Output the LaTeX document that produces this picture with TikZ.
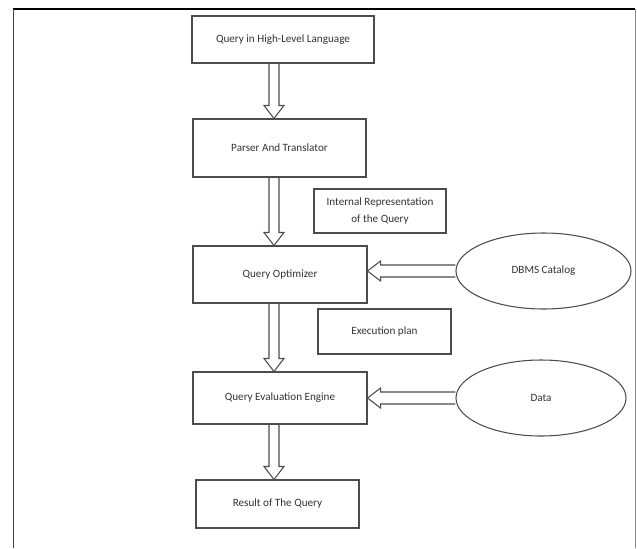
\documentclass[tikz,border=0pt]{standalone}
\usepackage{fontspec}
\setmainfont{Carlito}
\usetikzlibrary{positioning,calc,shapes.geometric}
\newcommand{\blockdown}[2]{% from, to   (hollow arrow down the axis)
  \draw[arr] ($(#1.south -| axis)+(-5,0)$) -- ($(#2.north -| axis)+(-5,13)$)
    -- ($(#2.north -| axis)+(-10,13)$) -- (#2.north -| axis)
    -- ($(#2.north -| axis)+(10,13)$) -- ($(#2.north -| axis)+(5,13)$)
    -- ($(#1.south -| axis)+(5,0)$);}
\newcommand{\blockleft}[2]{% from, to   (hollow arrow pointing left)
  \draw[arr] ($(#1.west)+(0,6)$) -- ($(#2.east |- #1.west)+(13,6)$)
    -- ($(#2.east |- #1.west)+(13,10)$) -- (#2.east |- #1.west)
    -- ($(#2.east |- #1.west)+(13,-10)$) -- ($(#2.east |- #1.west)+(13,-6)$)
    -- ($(#1.west)+(0,-6)$);}

\begin{document}
\begin{tikzpicture}[x=0.03cm,y=0.03cm,
  box/.style={draw=black!70,line width=0.9pt,fill=white,inner sep=0,
    text=black!80,font=\fontsize{9.5}{14}\selectfont},
  ell/.style={box,ellipse},
  arr/.style={draw=black!70,line width=0.9pt,line join=miter}]
  \useasboundingbox (0,0) rectangle (637,-548);
  % ---- frame ----
  \draw[line width=1.6pt] (12.5,-9) -- (635,-9);
  \draw[black!75,line width=1.1pt] (13.5,-9) -- (13.5,-548);
  \draw[black!45,line width=0.7pt] (635,-9) -- (635,-548);
  % ---- main column ----
  \coordinate (axis) at (274,0);
  \node[box,minimum width=5.46cm,minimum height=1.41cm] (hll) at (283,-39.5) {Query in High-Level Language};
  \node[box,minimum width=5.19cm,minimum height=1.74cm] (parser) at (279.5,-148) {Parser And Translator};
  \node[box,minimum width=5.22cm,minimum height=1.71cm] (opt) at (280,-274.5) {Query Optimizer};
  \node[box,minimum width=5.22cm,minimum height=1.56cm] (engine) at (280,-398) {Query Evaluation Engine};
  \node[box,minimum width=4.89cm,minimum height=1.44cm] (result) at (277.5,-504) {Result of The Query};
  % ---- side labels ----
  \node[box,align=center,minimum width=3.96cm,minimum height=1.32cm] (irep) at (380,-211) {Internal Representation\\of the Query};
  \node[box,minimum width=3.99cm,minimum height=1.35cm] (plan) at (384.5,-331.5) {Execution plan};
  % ---- inputs ----
  \node[ell,minimum width=5.25cm,minimum height=2.28cm] (catalog) at (543.5,-271) {DBMS Catalog};
  \node[ell,minimum width=5.1cm,minimum height=2.28cm] (data) at (541,-398) {Data};
  % ---- arrows ----
  \blockdown{hll}{parser}
  \blockdown{parser}{opt}
  \blockdown{opt}{engine}
  \blockdown{engine}{result}
  \blockleft{catalog}{opt}
  \blockleft{data}{engine}
\end{tikzpicture}
\end{document}
